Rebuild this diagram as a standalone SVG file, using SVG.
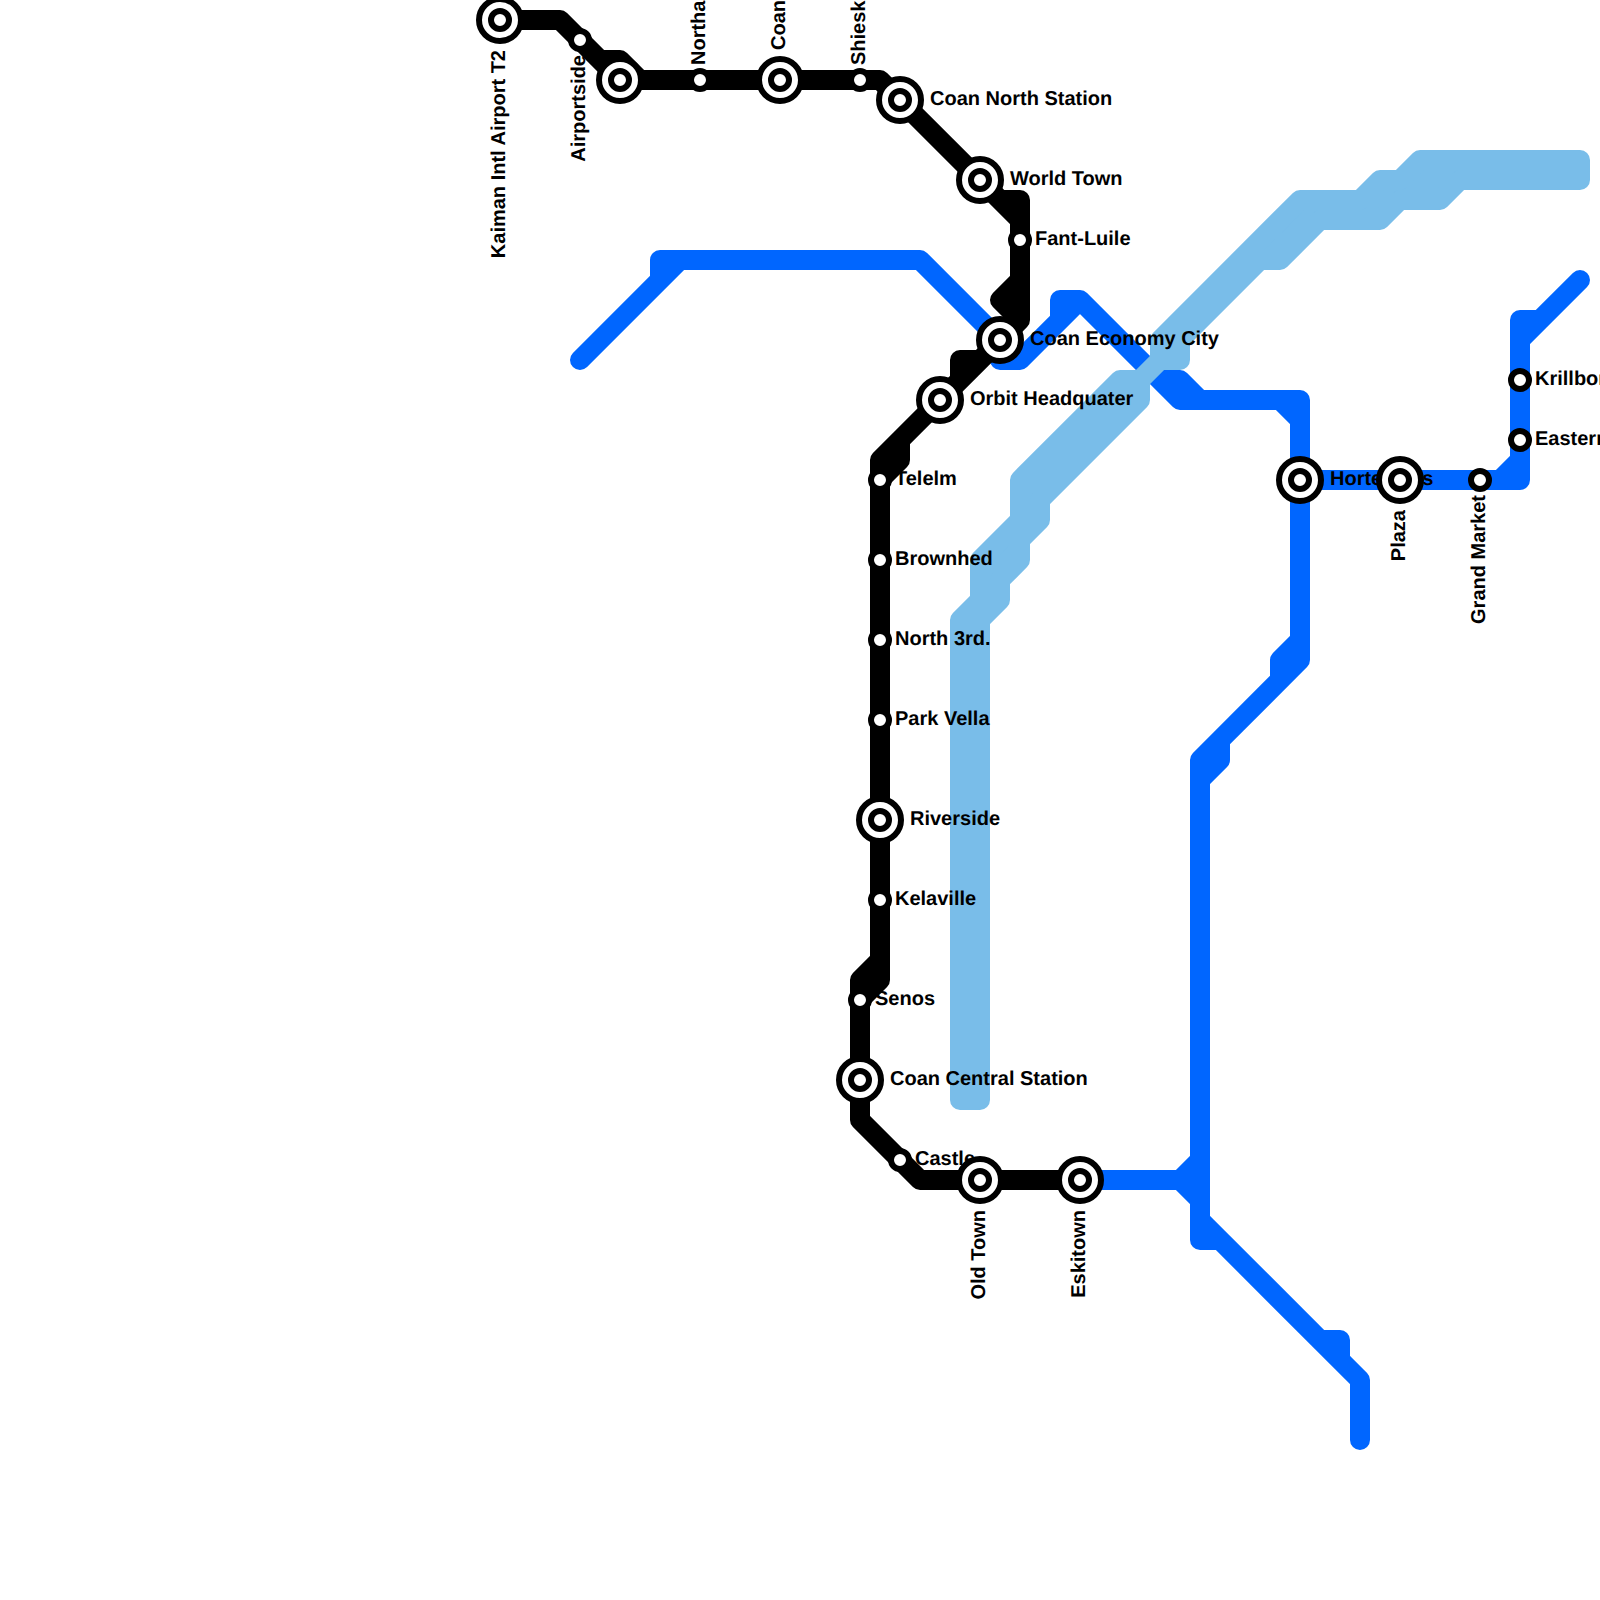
<svg xmlns="http://www.w3.org/2000/svg" width="1600" height="1600" viewBox="0 0 1600 1600">
<style>
.ln{fill:none;stroke-width:20;stroke-linecap:round;stroke-linejoin:round}
.blue{stroke:#0066ff}
.black{stroke:#000}
.sky{fill:#79bde9;stroke:#79bde9;stroke-width:20;stroke-linejoin:round}
.st{fill:#fff;stroke:#000;stroke-width:6}
text{font-family:"Liberation Sans",Arial,sans-serif;font-size:20px;font-weight:700;fill:#000;text-rendering:geometricPrecision}
</style>
<rect width="1600" height="1600" fill="#fff"/>
<g id="connectors">
<path id="line-blue" class="ln blue" d="M580 360L680 260H920L1000 340V360H1020L1080 300L1180 400H1300V660L1200 760V1240H1220M660 280V260H680M1060 320V300H1080M1160 380H1180L1200 400M1280 400L1300 420M1300 640L1280 660V680M1220 740V760L1200 780M1080 1180H1180L1200 1160M1180 1180L1200 1200M1200 1220L1360 1380V1440M1320 1340H1340V1360M1300 480H1520V320H1540M1500 480L1520 460M1520 340L1580 280"/>
<path id="line-sky" class="sky" d="M960 1100V620L980 600V560L1020 520V480L1120 380H1140L1160 360V340L1300 200H1360L1380 180H1400L1420 160H1580V180H1460L1440 200H1400L1380 220H1320L1280 260H1260L1180 340V360H1160L1140 380V400L1040 500V520L1020 540V560L1000 580V600L980 620V1100Z"/>
<path id="line-black" class="ln black" d="M500 20H560L620 80M600 60H620L640 80H880L1020 220V280L1000 300L1020 320L880 460V960L860 980V1120L920 1180H1080M1000 200H1020V320M960 380V360H980M900 440V460L880 480M880 960V980L860 1000"/>
</g>
<g id="nodes">
<g id="kaiman"><text transform="translate(505 50) rotate(-90)" text-anchor="end">Kaiman Intl Airport T2</text><circle class="st" cx="500" cy="20" r="21"/><circle class="st" cx="500" cy="20" r="9"/></g>
<g id="airportside"><text transform="translate(585 55) rotate(-90)" text-anchor="end">Airportside</text><circle class="st" cx="580" cy="40" r="9"/></g>
<g id="junction"><circle class="st" cx="620" cy="80" r="21"/><circle class="st" cx="620" cy="80" r="9"/></g>
<g id="northa"><text transform="translate(705 65) rotate(-90)">Northa</text><circle class="st" cx="700" cy="80" r="9"/></g>
<g id="coan"><text transform="translate(785 50) rotate(-90)">Coan</text><circle class="st" cx="780" cy="80" r="21"/><circle class="st" cx="780" cy="80" r="9"/></g>
<g id="shiesk"><text transform="translate(865 65) rotate(-90)">Shiesk</text><circle class="st" cx="860" cy="80" r="9"/></g>
<g id="coan-north"><text x="930" y="105">Coan North Station</text><circle class="st" cx="900" cy="100" r="21"/><circle class="st" cx="900" cy="100" r="9"/></g>
<g id="world-town"><text x="1010" y="185">World Town</text><circle class="st" cx="980" cy="180" r="21"/><circle class="st" cx="980" cy="180" r="9"/></g>
<g id="fant-luile"><text x="1035" y="245">Fant-Luile</text><circle class="st" cx="1020" cy="240" r="9"/></g>
<g id="coan-economy"><text x="1030" y="345">Coan Economy City</text><circle class="st" cx="1000" cy="340" r="21"/><circle class="st" cx="1000" cy="340" r="9"/></g>
<g id="orbit"><text x="970" y="405">Orbit Headquater</text><circle class="st" cx="940" cy="400" r="21"/><circle class="st" cx="940" cy="400" r="9"/></g>
<g id="telelm"><text x="895" y="485">Telelm</text><circle class="st" cx="880" cy="480" r="9"/></g>
<g id="brownhed"><text x="895" y="565">Brownhed</text><circle class="st" cx="880" cy="560" r="9"/></g>
<g id="north-3rd"><text x="895" y="645">North 3rd.</text><circle class="st" cx="880" cy="640" r="9"/></g>
<g id="park-vella"><text x="895" y="725">Park Vella</text><circle class="st" cx="880" cy="720" r="9"/></g>
<g id="riverside"><text x="910" y="825">Riverside</text><circle class="st" cx="880" cy="820" r="21"/><circle class="st" cx="880" cy="820" r="9"/></g>
<g id="kelaville"><text x="895" y="905">Kelaville</text><circle class="st" cx="880" cy="900" r="9"/></g>
<g id="senos"><text x="875" y="1005">Senos</text><circle class="st" cx="860" cy="1000" r="9"/></g>
<g id="coan-central"><text x="890" y="1085">Coan Central Station</text><circle class="st" cx="860" cy="1080" r="21"/><circle class="st" cx="860" cy="1080" r="9"/></g>
<g id="castle"><text x="915" y="1165">Castle</text><circle class="st" cx="900" cy="1160" r="9"/></g>
<g id="old-town"><text transform="translate(985 1210) rotate(-90)" text-anchor="end">Old Town</text><circle class="st" cx="980" cy="1180" r="21"/><circle class="st" cx="980" cy="1180" r="9"/></g>
<g id="eskitown"><text transform="translate(1085 1210) rotate(-90)" text-anchor="end">Eskitown</text><circle class="st" cx="1080" cy="1180" r="21"/><circle class="st" cx="1080" cy="1180" r="9"/></g>
<g id="hortensias"><text x="1330" y="485">Hortensias</text><circle class="st" cx="1300" cy="480" r="21"/><circle class="st" cx="1300" cy="480" r="9"/></g>
<g id="plaza"><text transform="translate(1405 510) rotate(-90)" text-anchor="end">Plaza</text><circle class="st" cx="1400" cy="480" r="21"/><circle class="st" cx="1400" cy="480" r="9"/></g>
<g id="grand-market"><text transform="translate(1485 495) rotate(-90)" text-anchor="end">Grand Market</text><circle class="st" cx="1480" cy="480" r="9"/></g>
<g id="krillbor"><text x="1535" y="385">Krillbor</text><circle class="st" cx="1520" cy="380" r="9"/></g>
<g id="eastern"><text x="1535" y="445">Eastern</text><circle class="st" cx="1520" cy="440" r="9"/></g>
</g>
</svg>
